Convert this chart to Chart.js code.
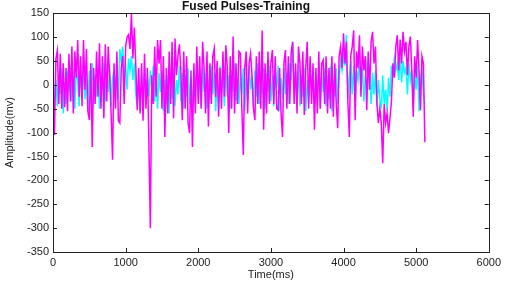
<!DOCTYPE html>
<html>
<head>
<meta charset="utf-8">
<script src="https://cdn.jsdelivr.net/npm/chart.js@4/dist/chart.umd.min.js"></script>
<style>
html,body{margin:0;padding:0;background:#fff;}
#wrap{width:505px;height:283px;position:relative;}
</style>
</head>
<body>
<div id="wrap"><canvas id="c" width="505" height="283"></canvas></div>
<script>
const stepMs = 20;
const magentaValues = [
  20, -105, 55, 72, -40, 65, -50, 45, -47, 35,
  -55, 65, -35, 80, -60, 70, 15, 94, -25, 60,
  -45, 94, -10, 75, -55, -74, 45, -130, 35, -40,
  70, -25, 87, -50, 60, -70, 85, -35, 80, 20,
  -60, -157, 45, -50, 70, -75, -80, 35, 60, -40,
  80, 100, 105, 75, 150, 55, 120, 40, -53, 35,
  -60, 45, -75, 65, -50, 35, -120, -300, 20, -40,
  80, -25, 94, 45, 94, -50, 60, -109, 35, -60,
  70, -40, 90, -70, 97, 20, 60, 85, 30, -74,
  70, -50, 60, -80, -101, 30, -130, 45, -60, 80,
  -40, 60, -50, 90, 35, -60, 70, -87, 45, -40,
  60, 76, -25, 50, -67, 35, -50, 70, -25, 83,
  35, -101, 60, -50, 101, -60, 45, -40, 70, 66,
  -50, -147, 35, 70, -60, 45, 66, 20, -50, -74,
  60, -40, 70, -50, 114, -94, 45, -60, 70, -40,
  45, 73, -40, 60, -50, -53, 35, -60, -109, 45,
  73, -50, 60, -40, 70, 90, -40, 45, -60, 80,
  45, -40, 70, -63, 35, 90, -50, 60, -40, 45,
  -94, 35, -60, 70, -50, 45, 52, -40, 60, -60,
  35, -50, 60, -67, 45, -40, -91, 60, 80, 35,
  108, 45, 90, -35, -109, 60, 80, 114, -74, 70,
  35, 104, -25, 80, 30, 60, -53, 70, -10, 90,
  111, 45, 80, -40, -80, -50, -80, -164, -40, -80,
  -60, -101, -70, -35, 45, 15, 80, 104, 30, 95,
  45, 111, 70, 90, 20, 80, 101, 30, -67, 60,
  15, 94, 30, -53, 60, 45, -120
];
const cyanValues = [
  20, -30, 10, -45, 25, -20, 35, -60, 5, -40,
  30, -15, 40, -35, 20, -50, 35, 10, -45, 25,
  -20, 40, -30, 15, -55, 30, -10, 45, -40, 20,
  -25, 35, -50, 20, -10, 45, -35, 25, -15, 40,
  -45, 15, 30, -20, 40, -30, 75, 50, 80, 20,
  40, -10, 55, 30, 60, 10, 45, -20, -45, 10,
  -55, 20, -30, 35, -40, 15, -25, 30, -10, 40,
  -35, 20, -50, 25, -15, 30, -55, 10, -40, 20,
  -60, 15, -30, 35, -45, 10, -20, 40, -35, 25,
  -50, 20, -25, 35, -40, 15, -55, 30, -10, 40,
  -30, 20, -45, 35, -15, 25, -50, 10, -30, 40,
  -20, 30, -55, 15, -35, 40, -10, 25, -45, 35,
  -25, 20, -50, 30, -15, 45, -35, 10, -40, 25,
  -20, 35, -55, 15, -30, 40, -10, 20, -45, 30,
  -25, 45, -40, 15, -20, 35, -50, 25, -15, 40,
  -35, 20, -45, 30, -10, 40, -55, 15, -30, 35,
  -20, 25, -40, 45, 10, 90, -15, 30, -30, 40,
  -45, 20, -25, 35, -55, 10, -35, 45, -10, 30,
  -40, 15, -20, 40, -50, 25, -15, 35, -45, 20,
  -30, 40, -55, 10, -25, 35, -40, 20, 50, 30,
  60, 40, 105, -30, 20, 50, -20, 40, -45, 30,
  10, 55, -10, 35, -35, 20, 45, 10, 35, -40,
  25, -20, 30, -45, 10, -30, -50, 20, -40, -10,
  -55, 15, -25, 40, 20, 55, 30, 45, 10, 60,
  5, 50, 25, 35, -20, 45, 10, 30, -45, 20,
  -10, 40, -55, 15, 30, -20, -40
];
const timeMs = magentaValues.map((_, i) => i * stepMs);
const xTicks = [0, 1000, 2000, 3000, 4000, 5000, 6000];
const yTicks = [-350, -300, -250, -200, -150, -100, -50, 0, 50, 100, 150];
const titleText = 'Fused Pulses-Training';
const xTitle = 'Time(ms)';
const yTitle = 'Amplitude(mv)';

const toPts = vals => vals.map((v, i) => ({x: timeMs[i], y: v}));

const boxTicks = {
  id: 'boxTicks',
  afterDatasetsDraw(chart) {
    const {ctx, chartArea: a, scales} = chart;
    ctx.save();
    ctx.strokeStyle = '#222';
    ctx.lineWidth = 1;
    ctx.strokeRect(Math.round(a.left) + 0.5, Math.round(a.top) + 0.5,
      Math.round(a.right - a.left), Math.round(a.bottom - a.top));
    const L = 4;
    ctx.beginPath();
    scales.x.ticks.forEach(t => {
      const px = Math.round(scales.x.getPixelForValue(t.value)) + 0.5;
      ctx.moveTo(px, a.bottom); ctx.lineTo(px, a.bottom - L);
      ctx.moveTo(px, a.top); ctx.lineTo(px, a.top + L);
    });
    scales.y.ticks.forEach(t => {
      const py = Math.round(scales.y.getPixelForValue(t.value)) + 0.5;
      ctx.moveTo(a.left, py); ctx.lineTo(a.left + L, py);
      ctx.moveTo(a.right, py); ctx.lineTo(a.right - L, py);
    });
    ctx.stroke();
    ctx.restore();
  }
};

const noGrid = {display: true, drawOnChartArea: false, drawTicks: false, tickLength: 0, color: 'rgba(0,0,0,0)'};

new Chart(document.getElementById('c'), {
  type: 'line',
  data: {
    datasets: [
      {label: 'magenta', data: toPts(magentaValues), borderColor: '#ff00ff', borderWidth: 1.5, pointRadius: 0, tension: 0, fill: false},
      {label: 'cyan', data: toPts(cyanValues), borderColor: '#00ffff', borderWidth: 1.5, pointRadius: 0, tension: 0, fill: false}
    ]
  },
  options: {
    responsive: false,
    animation: false,
    events: [],
    layout: {padding: {left: 3, right: 16, top: 0, bottom: 0}},
    plugins: {
      legend: {display: false},
      tooltip: {enabled: false},
      title: {display: true, text: titleText, color: '#111',
        font: {family: 'Liberation Sans', size: 12, weight: 'bold', lineHeight: 1.1},
        padding: {top: 0, bottom: 0}}
    },
    scales: {
      x: {
        type: 'linear', min: 0, max: 6000,
        afterBuildTicks: s => { s.ticks = xTicks.map(v => ({value: v})); },
        grid: noGrid, border: {display: false},
        ticks: {color: '#222', font: {family: 'Liberation Sans', size: 11}, padding: 4, maxRotation: 0,
          callback: v => String(v)},
        title: {display: true, text: xTitle, color: '#222', font: {family: 'Liberation Sans', size: 11}, padding: {top: 0, bottom: 1}},
        afterFit: s => { s.height = 31; }
      },
      y: {
        type: 'linear', min: -350, max: 150,
        afterBuildTicks: s => { s.ticks = yTicks.map(v => ({value: v})); },
        grid: noGrid, border: {display: false},
        ticks: {color: '#222', font: {family: 'Liberation Sans', size: 11}, padding: 4, callback: v => String(v)},
        title: {display: true, text: yTitle, color: '#222', font: {family: 'Liberation Sans', size: 11}, padding: {top: 0, bottom: 0}},
        afterFit: s => { s.width = 50; }
      }
    }
  },
  plugins: [boxTicks]
});
</script>
</body>
</html>
